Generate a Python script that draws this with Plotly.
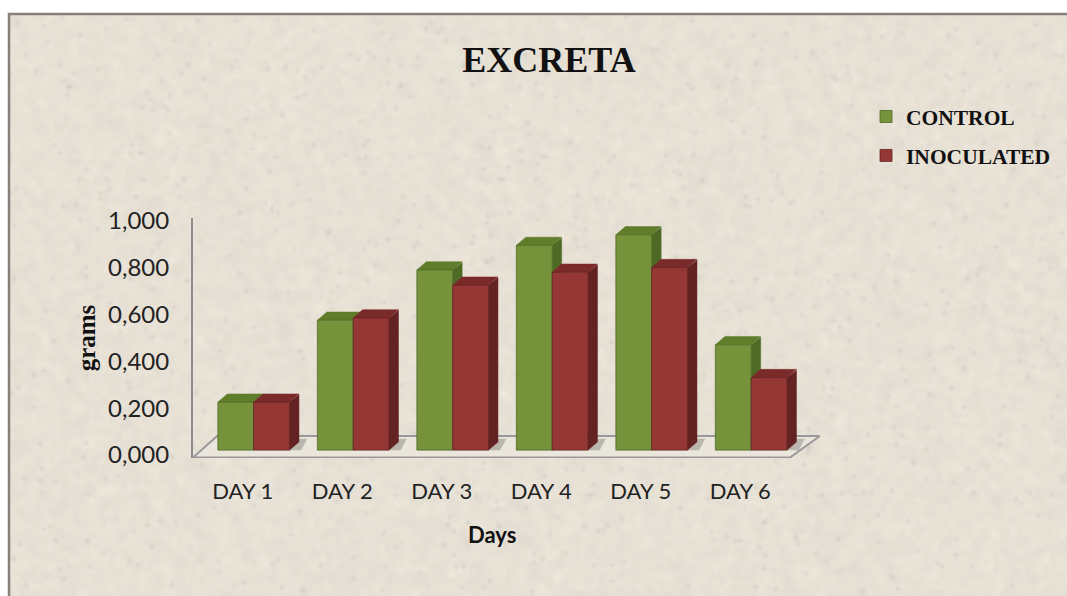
import base64
import struct
import zlib

import numpy as np
import plotly.graph_objects as go

# Chart data
days = ["DAY 1", "DAY 2", "DAY 3", "DAY 4", "DAY 5", "DAY 6"]
control = [0.205, 0.555, 0.77, 0.875, 0.92, 0.45]
inoculated = [0.205, 0.565, 0.705, 0.76, 0.78, 0.31]
y_ticks = [0, 0.2, 0.4, 0.6, 0.8, 1.0]

W, H = 1067, 596
positions = list(range(len(days)))

# Pseudo-3D projection constants (axis units)
DEPTH_X = 0.095
DEPTH_Y = 0.035
BAR_W = 0.36
LIFT = 0.021
Y_MIN, Y_MAX = -0.0128, 1.0128
FLOOR_DX, FLOOR_DY = 0.27, 0.094


def hash_noise(rows, cols, seed):
    yy, xx = np.mgrid[0:rows, 0:cols]
    v = np.sin((xx + seed) * 12.9898 + (yy + seed * 3) * 78.233) * 43758.5453
    return v - np.floor(v)


def soften(a, passes):
    for _ in range(passes):
        a = (a + np.roll(a, 1, 0) + np.roll(a, -1, 0) + np.roll(a, 1, 1) + np.roll(a, -1, 1)) / 5
    return a


def paper_texture(cols, rows):
    """Speckled parchment fill, returned as a PNG data URI."""
    fine = soften(hash_noise(rows, cols, 1.0), 2) - 0.5
    mottled = soften(hash_noise(rows, cols, 7.0), 8) - 0.5
    specks = soften((hash_noise(rows, cols, 13.0) > 0.995).astype(float), 1)
    shade = 1 + fine * 0.06 + mottled * 0.14 - specks * 0.2
    base = np.array([232, 225, 214], dtype=float)
    img = np.clip(shade[..., None] * base, 0, 255).astype(np.uint8)
    raw = b"".join(b"\x00" + img[r].tobytes() for r in range(rows))

    def chunk(tag, body):
        return struct.pack(">I", len(body)) + tag + body + struct.pack(">I", zlib.crc32(tag + body))

    png = (b"\x89PNG\r\n\x1a\n"
           + chunk(b"IHDR", struct.pack(">IIBBBBB", cols, rows, 8, 2, 0, 0, 0))
           + chunk(b"IDAT", zlib.compress(raw, 9))
           + chunk(b"IEND", b""))
    return "data:image/png;base64," + base64.b64encode(png).decode()


def polygon(xs, ys, color, opacity=1.0, line=None, width=0.5):
    return go.Scatter(
        x=xs + xs[:1], y=ys + ys[:1], mode="lines", fill="toself", fillcolor=color,
        line=dict(color=line or color, width=width), opacity=opacity,
        hoverinfo="skip", showlegend=False, xaxis="x", yaxis="y",
    )


fig = go.Figure()

# Floor of the chart; the axis runs on past the last day to hold its slanted edge
left, right = -0.5, 5.5
axis_end = right + FLOOR_DX * 1.11 + 0.01
fig.add_trace(polygon(
    [left, right, right + FLOOR_DX * 1.11, left + FLOOR_DX * 0.9],
    [Y_MIN + 0.002, Y_MIN + 0.002, Y_MIN + FLOOR_DY, Y_MIN + FLOOR_DY],
    "#EAE6DC", line="#9A989A", width=2,
))

series = [
    (control, "CONTROL", "#76933C", "#4F6A24", "#5F7D2A", -0.25),
    (inoculated, "INOCULATED", "#953735", "#632322", "#7A2A28", 0.11),
]

# Soft shadows on the floor behind each pair of bars
for p in positions:
    x0 = p - 0.25
    x1 = p + 0.47 + DEPTH_X
    fig.add_trace(polygon(
        [x0, x1 + 0.02, x1 + 0.08, x0 + 0.1],
        [LIFT, LIFT, LIFT + DEPTH_Y + 0.012, LIFT + DEPTH_Y + 0.012],
        "#8B8880", opacity=0.5,
    ))

# Side and top faces sit under the front faces
for values, name, front, side, top, offset in series:
    for p, v in zip(positions, values):
        xl = p + offset
        xr = xl + BAR_W
        t = LIFT + v
        fig.add_trace(polygon(
            [xr, xr + DEPTH_X, xr + DEPTH_X, xr],
            [LIFT, LIFT + DEPTH_Y, t + DEPTH_Y * 0.9, t],
            side,
        ))
        fig.add_trace(polygon(
            [xl, xl + DEPTH_X, xr + DEPTH_X, xr],
            [t, t + DEPTH_Y, t + DEPTH_Y, t],
            top,
        ))

# Front faces on an overlaid axis pair so they cover the faces above
for values, name, front, side, top, offset in series:
    fig.add_trace(go.Bar(
        x=positions, y=values, base=LIFT, name=name, offset=offset, width=BAR_W,
        legendgroup=name,
        marker=dict(color=front, line=dict(color=side, width=0.8)),
        xaxis="x2", yaxis="y2",
    ))

x_domain = [193 / W, (193 + 99.5 * (axis_end - left)) / W]
y_domain = [1 - 458 / H, 1 - 218 / H]

fig.update_layout(
    width=W, height=H, autosize=False,
    margin=dict(l=0, r=0, t=0, b=0, autoexpand=False),
    paper_bgcolor="#FFFFFF", plot_bgcolor="rgba(0,0,0,0)",
    separators=",.",
    barmode="overlay",
    title=dict(
        text="EXCRETA", x=549 / W, xanchor="center", y=1 - 59 / H, yanchor="middle",
        font=dict(family="Liberation Serif", size=36, color="#111111", weight="bold"),
    ),
    xaxis=dict(
        domain=x_domain, range=[left, axis_end], tickmode="array", tickvals=positions, ticktext=days,
        showgrid=False, zeroline=False, showline=False, ticks="", ticklabelstandoff=18,
        tickfont=dict(family="Lato", size=22, color="#222222"),
    ),
    yaxis=dict(
        domain=y_domain, range=[Y_MIN, Y_MAX], tickmode="array", tickvals=y_ticks, tickformat=".3f",
        showgrid=False, zeroline=False, showline=True, linecolor="#8E8C8C", linewidth=2,
        ticks="", ticklabelstandoff=17,
        tickfont=dict(family="Lato", size=24, color="#222222"),
        title=dict(text="grams", standoff=5, font=dict(family="Liberation Serif", size=25, color="#111111", weight="bold")),
    ),
    xaxis2=dict(domain=x_domain, range=[left, axis_end], overlaying="x", visible=False),
    yaxis2=dict(domain=y_domain, range=[Y_MIN, Y_MAX], overlaying="y", visible=False),
    legend=dict(
        x=866 / W, xanchor="left", y=1 - 96 / H, yanchor="top", bgcolor="rgba(0,0,0,0)",
        font=dict(family="Liberation Serif", size=21.5, color="#111111", weight="bold"),
        traceorder="grouped", itemclick=False, itemdoubleclick=False, tracegroupgap=8,
    ),
    # The x title is centred under the days, not under the wider floor
    annotations=[dict(
        text="Days", xref="paper", yref="paper", x=492 / W, y=1 - 534 / H,
        xanchor="center", yanchor="middle", showarrow=False,
        font=dict(family="Lato", size=22, color="#111111", weight="bold"),
    )],
    images=[dict(
        source=paper_texture(529, 291), xref="paper", yref="paper",
        x=9 / W, y=1 - 14 / H, sizex=(W - 9) / W, sizey=(H - 14) / H,
        xanchor="left", yanchor="top", sizing="stretch", layer="below",
    )],
    shapes=[dict(
        type="rect", xref="paper", yref="paper", x0=9 / W, x1=1.01, y0=-0.01, y1=1 - 14 / H,
        line=dict(color="#84817A", width=2.5), layer="below",
    )],
)

fig.write_html("out.html", config=dict(displayModeBar=False))
